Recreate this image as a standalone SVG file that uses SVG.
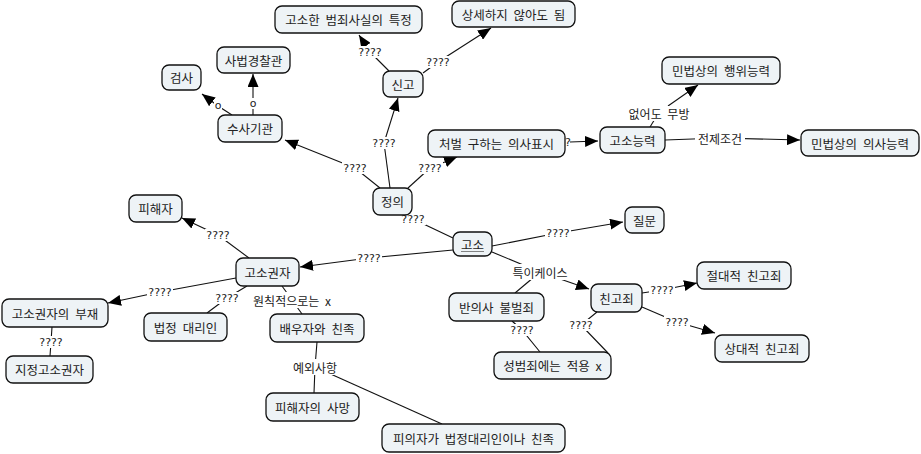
<svg xmlns="http://www.w3.org/2000/svg" width="921" height="454" viewBox="0 0 921 454">
<style>
.node rect{fill:#eef3f6;stroke:#111;stroke-width:1.3}
.nt{font-family:"Noto Sans CJK KR","Noto Sans",sans-serif;font-size:12.5px;fill:#222;text-anchor:middle;dominant-baseline:central;word-spacing:3px}
.ln{stroke:#111;stroke-width:1.1;fill:none}
.ar{marker-end:url(#ah)}
.lbg{fill:#fff}
.lb{font-family:"Noto Sans CJK KR","Noto Sans",sans-serif;font-size:12px;fill:#222;text-anchor:middle;dominant-baseline:central;word-spacing:3px}
.q{font-family:"DejaVu Sans",sans-serif;font-size:11px}
</style>
<defs>
<marker id="ah" markerUnits="userSpaceOnUse" markerWidth="13" markerHeight="11" refX="13" refY="5.5" orient="auto">
<path d="M0,0 L13,5.5 L0,11 z" fill="#000"/>
</marker>
</defs>
<rect width="921" height="454" fill="#fff"/>
<g id="connectors">
<path class="ln" d="M380,188 L355,168"/><path class="ln ar" d="M355,168 L285,140"/>
<path class="ln" d="M390,188 L384,143"/><path class="ln ar" d="M384,143 L398,98"/>
<path class="ln" d="M408,188 L430,168"/><path class="ln ar" d="M430,168 L457,157"/>
<path class="ln" d="M389,71 L370,52"/><path class="ln ar" d="M370,52 L359,35"/>
<path class="ln" d="M423,73 L438,62"/><path class="ln ar" d="M438,62 L491,28"/>
<path class="ln" d="M232,115 L218,106"/><path class="ln ar" d="M218,106 L202,94"/>
<path class="ln" d="M253,115 L253,103"/><path class="ln ar" d="M253,103 L253,74"/>
<path class="ln ar" d="M570,142 L598,141"/>
<path class="ln" d="M650,127 L658,114"/><path class="ln ar" d="M668,106 L698,85"/>
<path class="ln" d="M665,140 L720,138"/><path class="ln ar" d="M720,138 L800,140"/>
<path class="ln" d="M405,214 L413,219 L453,238"/>
<path class="ln" d="M492,246 L558,233"/><path class="ln ar" d="M558,233 L623,222"/>
<path class="ln" d="M453,250 L369,258"/><path class="ln ar" d="M369,258 L300,267"/>
<path class="ln" d="M492,252 L540,272"/><path class="ln ar" d="M540,272 L589,289"/><path class="ln" d="M540,272 L515,293"/>
<path class="ln" d="M642,293 L662,290"/><path class="ln ar" d="M662,290 L697,283"/>
<path class="ln" d="M642,307 L677,322"/><path class="ln ar" d="M677,322 L715,333"/>
<path class="ln" d="M597,312 L581,325 L608,353"/>
<path class="ln" d="M512,321 L522,330 L540,352"/>
<path class="ln" d="M249,258 L218,235"/><path class="ln ar" d="M218,235 L182,218"/>
<path class="ln" d="M236,278 L160,292"/><path class="ln ar" d="M160,292 L108,303"/>
<path class="ln" d="M247,286 L227,298 L207,313"/>
<path class="ln" d="M282,286 L292,300 L302,314"/>
<path class="ln" d="M52,327 L51,342 L50,356"/>
<path class="ln" d="M317,342 L315,367 L314,393"/><path class="ln" d="M315,367 L442,424"/>
<g>
<rect class="lbg" x="342" y="162" width="26" height="12"/><text class="lb q" x="355" y="168">????</text>
<rect class="lbg" x="371" y="137" width="26" height="12"/><text class="lb q" x="384" y="143">????</text>
<rect class="lbg" x="417" y="162" width="26" height="12"/><text class="lb q" x="430" y="168">????</text>
<rect class="lbg" x="357" y="46" width="26" height="12"/><text class="lb q" x="370" y="52">????</text>
<rect class="lbg" x="425" y="56" width="26" height="12"/><text class="lb q" x="438" y="62">????</text>
<rect class="lbg" x="214" y="100" width="8" height="11"/><text class="lb q" x="218" y="105.5">o</text>
<rect class="lbg" x="249" y="98" width="8" height="11"/><text class="lb q" x="253" y="103.5">o</text>
<text class="lb q" x="568" y="142">?</text>
<rect class="lbg" x="624" y="106" width="70" height="15"/><text class="lb" x="659" y="113">없어도 무방</text>
<rect class="lbg" x="695" y="131" width="50" height="15"/><text class="lb" x="720" y="138">전제조건</text>
<rect class="lbg" x="400" y="213" width="26" height="12"/><text class="lb q" x="413" y="219">????</text>
<rect class="lbg" x="545" y="227" width="26" height="12"/><text class="lb q" x="558" y="233">????</text>
<rect class="lbg" x="356" y="252" width="26" height="12"/><text class="lb q" x="369" y="258">????</text>
<rect class="lbg" x="508" y="264" width="64" height="16"/><text class="lb" x="540" y="272">특이케이스</text>
<rect class="lbg" x="649" y="284" width="26" height="12"/><text class="lb q" x="662" y="290">????</text>
<rect class="lbg" x="664" y="316" width="26" height="12"/><text class="lb q" x="677" y="322">????</text>
<rect class="lbg" x="568" y="319" width="26" height="12"/><text class="lb q" x="581" y="325">????</text>
<rect class="lbg" x="509" y="324" width="26" height="12"/><text class="lb q" x="522" y="330">????</text>
<rect class="lbg" x="205" y="229" width="26" height="12"/><text class="lb q" x="218" y="235">????</text>
<rect class="lbg" x="147" y="286" width="26" height="12"/><text class="lb q" x="160" y="292">????</text>
<rect class="lbg" x="214" y="292" width="26" height="12"/><text class="lb q" x="227" y="298">????</text>
<rect class="lbg" x="248" y="292" width="88" height="16"/><text class="lb" x="292" y="300">원칙적으로는 x</text>
<rect class="lbg" x="38" y="336" width="26" height="12"/><text class="lb q" x="51" y="342">????</text>
<rect class="lbg" x="290" y="359" width="50" height="16"/><text class="lb" x="315" y="367">예외사항</text>
</g>
</g>
<g id="n_gosohan" class="node"><rect x="275" y="6" width="147" height="27" rx="7"/><text class="nt" x="348.5" y="19.5">고소한 범죄사실의 특정</text></g>
<g id="n_sangse" class="node"><rect x="452" y="1" width="123" height="26" rx="7"/><text class="nt" x="513.5" y="14">상세하지 않아도 됨</text></g>
<g id="n_sabeop" class="node"><rect x="217" y="47" width="73" height="26" rx="7"/><text class="nt" x="253.5" y="60">사법경찰관</text></g>
<g id="n_geomsa" class="node"><rect x="162" y="65" width="39" height="25" rx="7"/><text class="nt" x="181.5" y="77.5">검사</text></g>
<g id="n_susa" class="node"><rect x="218" y="115" width="64" height="27" rx="7"/><text class="nt" x="250" y="128.5">수사기관</text></g>
<g id="n_singo" class="node"><rect x="383" y="71" width="40" height="26" rx="7"/><text class="nt" x="403" y="84">신고</text></g>
<g id="n_cheobeol" class="node"><rect x="428" y="130" width="137" height="27" rx="7"/><text class="nt" x="496.5" y="143.5">처벌 구하는 의사표시</text></g>
<g id="n_gosoneung" class="node"><rect x="600" y="127" width="65" height="26" rx="7"/><text class="nt" x="632.5" y="140">고소능력</text></g>
<g id="n_haengwi" class="node"><rect x="662" y="57" width="118" height="27" rx="7"/><text class="nt" x="721" y="70.5">민법상의 행위능력</text></g>
<g id="n_uisa" class="node"><rect x="801" y="130" width="118" height="26" rx="7"/><text class="nt" x="860" y="143">민법상의 의사능력</text></g>
<g id="n_jeongui" class="node"><rect x="373" y="188" width="39" height="27" rx="7"/><text class="nt" x="392.5" y="201.5">정의</text></g>
<g id="n_goso" class="node"><rect x="453" y="232" width="39" height="24" rx="7"/><text class="nt" x="472.5" y="244">고소</text><line x1="461" y1="251.5" x2="484" y2="251.5" stroke="#666" stroke-width="0.8"/></g>
<g id="n_jilmun" class="node"><rect x="625" y="207" width="39" height="26" rx="7"/><text class="nt" x="644.5" y="220">질문</text></g>
<g id="n_chingo" class="node"><rect x="591" y="284" width="51" height="28" rx="7"/><text class="nt" x="616.5" y="298">친고죄</text></g>
<g id="n_jeoldae" class="node"><rect x="697" y="262" width="94" height="27" rx="7"/><text class="nt" x="744" y="275.5">절대적 친고죄</text></g>
<g id="n_sangdae" class="node"><rect x="715" y="335" width="94" height="27" rx="7"/><text class="nt" x="762" y="348.5">상대적 친고죄</text></g>
<g id="n_banui" class="node"><rect x="449" y="293" width="95" height="28" rx="7"/><text class="nt" x="496.5" y="307">반의사 불벌죄</text></g>
<g id="n_seongbeom" class="node"><rect x="494" y="352" width="117" height="27" rx="7"/><text class="nt" x="552.5" y="365.5">성범죄에는 적용 x</text></g>
<g id="n_baeuja" class="node"><rect x="270" y="314" width="94" height="28" rx="7"/><text class="nt" x="317" y="328">배우자와 친족</text></g>
<g id="n_samang" class="node"><rect x="266" y="393" width="93" height="28" rx="7"/><text class="nt" x="312.5" y="407">피해자의 사망</text></g>
<g id="n_piuija" class="node"><rect x="382" y="424" width="183" height="28" rx="7"/><text class="nt" x="473.5" y="438">피의자가 법정대리인이나 친족</text></g>
<g id="n_pihaeja" class="node"><rect x="129" y="195" width="53" height="27" rx="7"/><text class="nt" x="155.5" y="208.5">피해자</text></g>
<g id="n_gosogwonja" class="node"><rect x="236" y="258" width="63" height="28" rx="7"/><text class="nt" x="267.5" y="272">고소권자</text></g>
<g id="n_bujae" class="node"><rect x="2" y="299" width="106" height="28" rx="7"/><text class="nt" x="55" y="313">고소권자의 부재</text></g>
<g id="n_beopjeong" class="node"><rect x="144" y="313" width="83" height="28" rx="7"/><text class="nt" x="185.5" y="327">법정 대리인</text></g>
<g id="n_jijeong" class="node"><rect x="6" y="356" width="87" height="27" rx="7"/><text class="nt" x="49.5" y="369.5">지정고소권자</text></g>
</svg>
